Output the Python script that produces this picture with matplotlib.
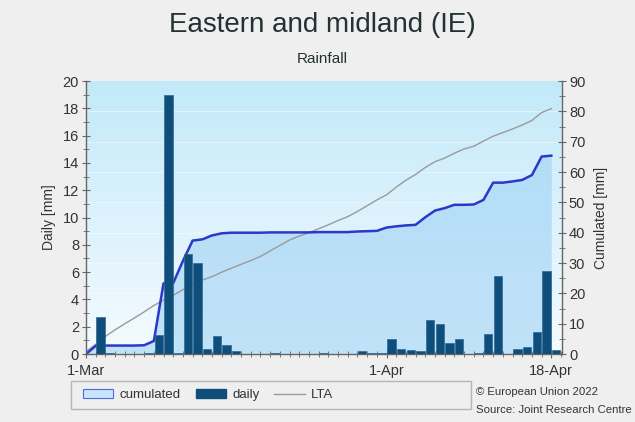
import numpy as np
import pandas as pd
import matplotlib
matplotlib.use('Agg')
import matplotlib.pyplot as plt
from matplotlib.patches import Patch, Rectangle
from matplotlib.lines import Line2D
from matplotlib.colors import LinearSegmentedColormap

plt.rcParams['font.family'] = ['Liberation Sans', 'DejaVu Sans']

# data: 1-Mar .. 18-Apr (daily rainfall in mm)
dates = pd.date_range('2022-03-01', '2022-04-18')
daily = [0, 2.7, 0.1, 0, 0, 0, 0.1, 1.4, 19.0, 0.1,
         7.3, 6.7, 0.4, 1.3, 0.7, 0.2, 0, 0, 0, 0.1,
         0, 0, 0, 0, 0.1, 0, 0, 0, 0.2, 0.1,
         0.1, 1.1, 0.4, 0.3, 0.2, 2.5, 2.2, 0.8, 1.1, 0,
         0.05, 1.5, 5.7, 0, 0.4, 0.5, 1.6, 6.1, 0.3]
cumulated = [0, 2.7, 2.8, 2.8, 2.8, 2.8, 2.9, 4.3, 23.3, 23.4,
             30.7, 37.4, 37.8, 39.1, 39.8, 40.0, 40.0, 40.0, 40.0, 40.1,
             40.1, 40.1, 40.1, 40.1, 40.2, 40.2, 40.2, 40.2, 40.4, 40.5,
             40.6, 41.7, 42.1, 42.4, 42.6, 45.1, 47.3, 48.1, 49.2, 49.2,
             49.3, 50.8, 56.5, 56.5, 56.9, 57.4, 59.0, 65.1, 65.4]
lta = [0.8, 3.2, 5.8, 8.0, 10.0, 11.9, 13.9, 16.0, 17.8, 19.4,
       21.2, 23.2, 24.4, 25.5, 27.0, 28.3, 29.6, 30.8, 32.2, 34.0,
       35.8, 37.6, 38.9, 40.0, 41.3, 42.6, 44.0, 45.3, 47.0, 48.9,
       50.8, 52.5, 55.0, 57.3, 59.2, 61.5, 63.4, 64.6, 66.2, 67.6,
       68.5, 70.2, 71.8, 73.0, 74.2, 75.5, 77.0, 79.6, 80.9]
tick_dates = ['2022-03-01', '2022-04-01', '2022-04-18']

day = np.arange(len(dates))
text_col = '#233232'
axis_col = '#666666'

fig = plt.figure(figsize=(6.35, 4.22), dpi=100, facecolor='#efefef')
# cumulated axis (right) drawn behind, daily axis (left) on top
ax2 = fig.add_axes([0.1354, 0.161, 0.7496, 0.647])
ax = fig.add_axes(ax2.get_position(), sharex=ax2)
ax.set_zorder(ax2.get_zorder() + 1)
ax.patch.set_visible(False)

# background gradient
cmap = LinearSegmentedColormap.from_list('bg', ['#f4fbfe', '#dcf2fc', '#c2e9f9'])
grad = np.linspace(0, 1, 256).reshape(-1, 1)
ax2.imshow(grad, cmap=cmap, origin='lower', aspect='auto', extent=(0, 1, 0, 1),
           transform=ax2.transAxes, zorder=0)

for v in range(10, 90, 10):
    ax2.axhline(v, color='white', lw=0.6, alpha=0.5, zorder=1)

ax2.fill_between(day, cumulated, 0, color='#9fd2f5', alpha=0.6, lw=0, zorder=2)
ax2.plot(day, lta, color='#9a9a9a', lw=1.0, zorder=3)
ax2.plot(day, cumulated, color='#2b38c8', lw=1.8, zorder=4)

ax.bar(day + 0.5, daily, width=0.86, color='#0f4d7a', edgecolor='#2d6a96', lw=0.5, zorder=5)

# axes limits / ticks
ax2.set_xlim(0, 49.1)
ax.set_ylim(0, 20)
ax2.set_ylim(0, 90)

ax.yaxis.tick_left()
ax.yaxis.set_label_position('left')
ax2.yaxis.tick_right()
ax2.yaxis.set_label_position('right')

ax.set_yticks(np.arange(0, 21, 2))
ax.set_yticks(np.arange(0, 21, 1), minor=True)
ax2.set_yticks(np.arange(0, 91, 10))
ax2.set_yticks(np.arange(0, 91, 5), minor=True)

tick_pos = [int(np.where(dates == pd.Timestamp(d))[0][0]) for d in tick_dates]
tick_lab = [pd.Timestamp(d).strftime('%-d-%b') for d in tick_dates]
ax.set_xticks(tick_pos)
ax.set_xticklabels(tick_lab)
ax.set_xticks(np.arange(0, 50), minor=True)
ax2.tick_params(axis='x', which='both', bottom=False, labelbottom=False)

for a in (ax, ax2):
    a.tick_params(which='major', direction='inout', length=6, color=axis_col,
                  labelsize=10.5, labelcolor='#333333', pad=2)
    a.tick_params(which='minor', direction='inout', length=4, color=axis_col)
    for s in a.spines.values():
        s.set_visible(False)
ax.tick_params(axis='x', which='major', pad=4)

ax.spines['left'].set_visible(True)
ax.spines['bottom'].set_visible(True)
ax2.spines['right'].set_visible(True)
for s in (ax.spines['left'], ax.spines['bottom'], ax2.spines['right']):
    s.set_color(axis_col)
    s.set_linewidth(1.0)

ax.set_ylabel('Daily [mm]', fontsize=10, color='#333333', labelpad=5)
ax2.set_ylabel('Cumulated [mm]', fontsize=10, color='#333333', labelpad=6)

# titles
fig.text(0.508, 0.94, 'Eastern and midland (IE)', ha='center', va='center',
         fontsize=20, color=text_col)
fig.text(0.508, 0.86, 'Rainfall', ha='center', va='center', fontsize=11, color=text_col)

# legend box
fig.patches.append(Rectangle((0.112, 0.03), 0.629, 0.068, transform=fig.transFigure,
                             facecolor='#efefef', edgecolor='#b5b5b5', lw=1.0))
handles = [Patch(facecolor='#c9e5fb', edgecolor='#4a6fd0', lw=0.8),
           Patch(facecolor='#0f4d7a', edgecolor='#0f4d7a'),
           Line2D([], [], color='#9a9a9a', lw=1.0)]
fig.legend(handles, ['cumulated', 'daily', 'LTA'], loc='center left',
           bbox_to_anchor=(0.112, 0.064), ncol=3, frameon=False, fontsize=9.5,
           handlelength=2.3, handleheight=0.6, handletextpad=0.5, columnspacing=1.1,
           labelcolor='#333333')

fig.text(0.749, 0.071, '\u00a9 European Union 2022', fontsize=8.2, color='#333333', va='center')
fig.text(0.749, 0.028, 'Source: Joint Research Centre', fontsize=8.2, color='#333333', va='center')

fig.savefig('out.png', dpi=100, facecolor=fig.get_facecolor())
